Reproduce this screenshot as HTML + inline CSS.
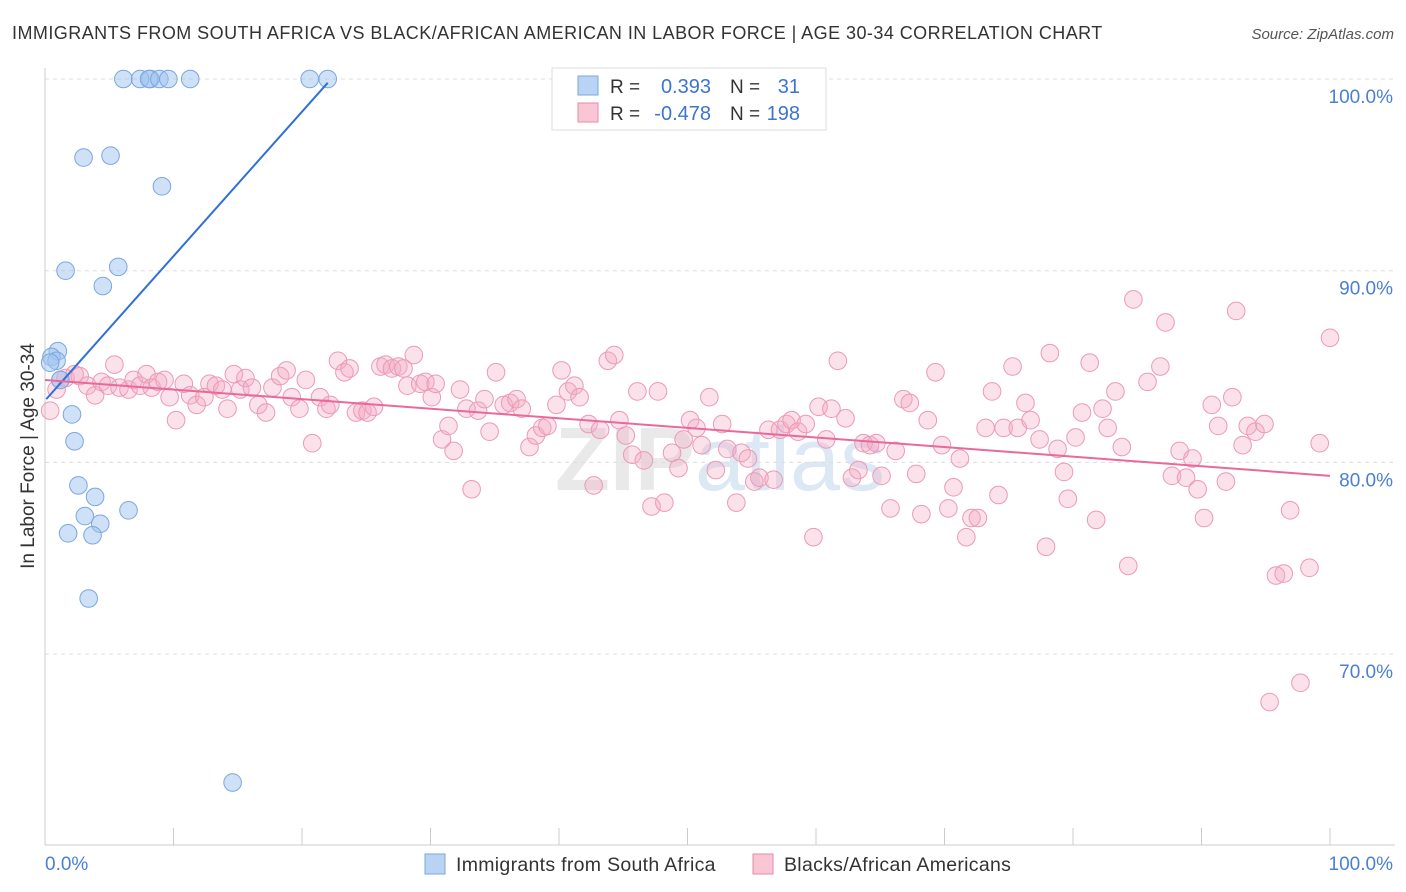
<!DOCTYPE html>
<html><head><meta charset="utf-8"><style>
body{margin:0;background:#fff;font-family:"Liberation Sans",sans-serif;}
#wrap{position:relative;width:1406px;height:892px;overflow:hidden;}
</style></head><body>
<div id="wrap">
<svg id="svg" width="1406" height="892" xmlns="http://www.w3.org/2000/svg">
<text x="12" y="39" font-size="18" fill="#333" letter-spacing="0.45">IMMIGRANTS FROM SOUTH AFRICA VS BLACK/AFRICAN AMERICAN IN LABOR FORCE | AGE 30-34 CORRELATION CHART</text>
<text x="1394" y="39" font-size="15" fill="#555" font-style="italic" text-anchor="end">Source: ZipAtlas.com</text>
<text x="720" y="490" font-size="90" fill="#e9e9e9" text-anchor="middle" font-weight="bold">ZIP<tspan fill="#dde8f5" font-weight="normal">atlas</tspan></text>
<g id="grid"></g><g id="axes"></g><g id="pink"></g><g id="blue"></g><g id="trend"></g>
<text x="34" y="456" font-size="19" fill="#333" text-anchor="middle" transform="rotate(-90 34 456)">In Labor Force | Age 30-34</text>
<text x="45" y="870" font-size="19" fill="#4a7fd4">0.0%</text>
<text x="1393" y="870" font-size="19" fill="#4a7fd4" text-anchor="end">100.0%</text>
<g>
<rect x="552" y="68" width="274" height="62" fill="#fff" stroke="#ddd"/>
<rect x="578" y="76" width="20" height="19" fill="#b9d3f5" stroke="#7aa7e0"/>
<rect x="578" y="103" width="20" height="19" fill="#f9c6d6" stroke="#e88aa8"/>
<text x="610" y="93" font-size="19" fill="#333">R =</text><text x="711" y="93" font-size="20" fill="#3d74d0" text-anchor="end">0.393</text>
<text x="730" y="93" font-size="19" fill="#333">N =</text><text x="800" y="93" font-size="20" fill="#3d74d0" text-anchor="end">31</text>
<text x="610" y="120" font-size="19" fill="#333">R =</text><text x="711" y="120" font-size="20" fill="#3d74d0" text-anchor="end">-0.478</text>
<text x="730" y="120" font-size="19" fill="#333">N =</text><text x="800" y="120" font-size="20" fill="#3d74d0" text-anchor="end">198</text>
</g>
<g>
<rect x="425" y="854" width="20" height="20" fill="#b9d3f5" stroke="#7aa7e0"/>
<text x="456" y="871" font-size="19.5" fill="#333" letter-spacing="0.3">Immigrants from South Africa</text>
<rect x="753" y="854" width="20" height="20" fill="#f9c6d6" stroke="#e88aa8"/>
<text x="784" y="871" font-size="19.5" fill="#333" letter-spacing="0.3">Blacks/African Americans</text>
</g>
</svg>
</div>
<script>
const yTicks=[100,90,80,70];
const yTickLabels=["100.0%","90.0%","80.0%","70.0%"];
const xTicks=[0,10,20,30,40,50,60,70,80,90,100];
const blueX=[6.1,8.2,7.4,8.1,8.9,9.6,11.3,20.6,22.0,3.0,5.1,9.1,1.6,5.7,4.5,1.0,0.5,0.9,0.4,1.2,2.1,2.3,2.6,3.9,3.1,6.5,4.3,1.8,3.7,3.4,14.6];
const blueY=[100,100,100,100,100,100,100,100,100,95.9,96.0,94.4,90.0,90.2,89.2,85.8,85.5,85.3,85.2,84.3,82.5,81.1,78.8,78.2,77.2,77.5,76.8,76.3,76.2,72.9,63.3];
const pinkX=[0.4,0.9,1.2,1.6,2.3,2.7,3.3,3.9,4.4,4.9,5.4,5.8,6.5,6.9,7.4,7.9,8.3,8.8,9.3,9.7,10.2,10.8,11.3,11.8,12.4,12.8,13.3,13.8,14.2,14.7,15.2,15.6,16.1,16.6,17.2,17.7,18.3,18.8,19.2,19.8,20.3,20.8,21.4,21.9,22.2,22.8,23.3,23.7,24.2,24.7,25.1,25.6,26.1,26.5,27.0,27.5,27.9,28.2,28.7,29.2,29.6,30.1,30.4,30.9,31.4,31.8,32.3,32.8,33.2,33.7,34.2,34.6,35.1,35.7,36.2,36.7,37.1,37.7,38.2,38.7,39.1,39.8,40.2,40.7,41.2,41.6,42.3,42.7,43.2,43.8,44.3,44.7,45.2,45.7,46.1,46.6,47.2,47.7,48.2,48.8,49.3,49.7,50.2,50.7,51.1,51.7,52.2,52.7,53.1,53.8,54.2,54.7,55.2,55.6,56.3,56.7,57.2,57.7,58.1,58.6,59.2,59.8,60.2,60.8,61.2,61.7,62.3,62.8,63.3,63.7,64.2,64.7,65.1,65.8,66.2,66.8,67.3,67.8,68.2,68.7,69.3,69.8,70.3,70.7,71.2,71.7,72.1,72.6,73.2,73.7,74.2,74.6,75.3,75.7,76.3,76.7,77.4,77.9,78.2,78.8,79.3,79.6,80.2,80.7,81.3,81.8,82.3,82.7,83.3,83.8,84.3,84.7,85.8,86.8,87.2,87.7,88.3,88.8,89.3,89.7,90.2,90.8,91.3,91.9,92.4,92.7,93.2,93.6,94.2,94.9,95.3,95.8,96.4,96.9,97.7,98.4,99.2,100];
const pinkY=[82.7,83.8,84.3,84.4,84.6,84.5,84.0,83.5,84.2,84.0,85.1,83.9,83.8,84.3,84.0,84.6,83.9,84.2,84.3,83.4,82.2,84.1,83.5,83.0,83.4,84.1,84.0,83.8,82.8,84.6,83.8,84.4,83.9,83.0,82.6,83.9,84.5,84.8,83.4,82.8,84.3,81.0,83.4,82.8,83.0,85.3,84.7,84.9,82.6,82.7,82.6,82.9,85.0,85.1,84.9,85.0,84.9,84.0,85.6,84.1,84.2,83.4,84.1,81.2,81.9,80.6,83.8,82.8,78.6,82.7,83.3,81.6,84.7,83.0,83.1,83.3,82.8,80.8,81.4,81.8,81.9,83.0,84.8,83.7,84.0,83.4,82.0,78.8,81.7,85.3,85.6,82.2,81.4,80.4,83.7,80.1,77.7,83.7,77.9,80.5,79.7,81.2,82.2,81.8,80.9,83.4,79.6,82.0,80.7,77.9,80.5,80.2,79.0,79.2,81.7,79.1,81.7,82.0,82.2,81.6,82.0,76.1,82.9,81.2,82.8,85.3,82.3,79.2,79.6,81.0,80.9,81.0,79.3,77.6,80.6,83.3,83.1,79.4,77.3,82.2,84.7,80.9,77.6,78.7,80.2,76.1,77.1,77.1,81.8,83.7,78.3,81.8,85.0,81.8,83.1,82.2,81.2,75.6,85.7,80.7,79.5,78.1,81.3,82.6,85.2,77.0,82.8,81.8,83.7,80.8,74.6,88.5,84.2,85.0,87.3,79.3,80.6,79.2,80.2,78.6,77.1,83.0,81.9,79.0,83.4,87.9,80.9,81.9,81.6,82.0,67.5,74.1,74.2,77.5,68.5,74.5,81.0,86.5];
const blueTrend=[[0.1,83.3],[22.0,99.8]];
const pinkTrend=[[0,84.3],[100,79.3]];
const NS="http://www.w3.org/2000/svg";
const X0=45,X1=1330,Y100=79,PX10=191.7;
function sx(v){return X0+(X1-X0)*v/100;}
function sy(v){return Y100+(100-v)*PX10/10;}
function mk(tag,attrs,parent){const e=document.createElementNS(NS,tag);for(const k in attrs)e.setAttribute(k,attrs[k]);document.getElementById(parent).appendChild(e);return e;}
yTicks.forEach((t,i)=>{
  const l=mk('line',{x1:45,x2:1395,y1:sy(t),y2:sy(t),stroke:'#ddd','stroke-dasharray':'4,4'},'grid');
  
  
  const tx=mk('text',{x:1393,y:sy(t)+24,'font-size':19,fill:'#4a7fd4','text-anchor':'end'},'grid');
  tx.textContent=yTickLabels[i];
  
  
});
const ax=mk('line',{x1:45,x2:45,y1:68,y2:845,stroke:'#ccc'},'axes');


const bx=mk('line',{x1:45,x2:1395,y1:845,y2:845,stroke:'#ccc'},'axes');


xTicks.forEach(t=>{
  const l=mk('line',{x1:sx(t),x2:sx(t),y1:828,y2:845,stroke:'#ccc'},'axes');
  
  
});
pinkX.forEach((v,i)=>{
  const c=mk('circle',{cx:sx(v),cy:sy(pinkY[i]),r:8.8,fill:'rgba(244,170,196,0.35)',stroke:'#eb9ab5','stroke-width':1},'pink');
  
  
});
blueX.forEach((v,i)=>{
  const c=mk('circle',{cx:sx(v),cy:sy(blueY[i]),r:8.8,fill:'rgba(160,196,240,0.5)',stroke:'#7aa7e0','stroke-width':1},'blue');
  
  
});
const bl=mk('line',{x1:sx(blueTrend[0][0]),y1:sy(blueTrend[0][1]),x2:sx(blueTrend[1][0]),y2:sy(blueTrend[1][1]),stroke:'#2f6fd8','stroke-width':2},'trend');


const pl=mk('line',{x1:sx(pinkTrend[0][0]),y1:sy(pinkTrend[0][1]),x2:sx(pinkTrend[1][0]),y2:sy(pinkTrend[1][1]),stroke:'#e8699a','stroke-width':2},'trend');


</script>
</body></html>
